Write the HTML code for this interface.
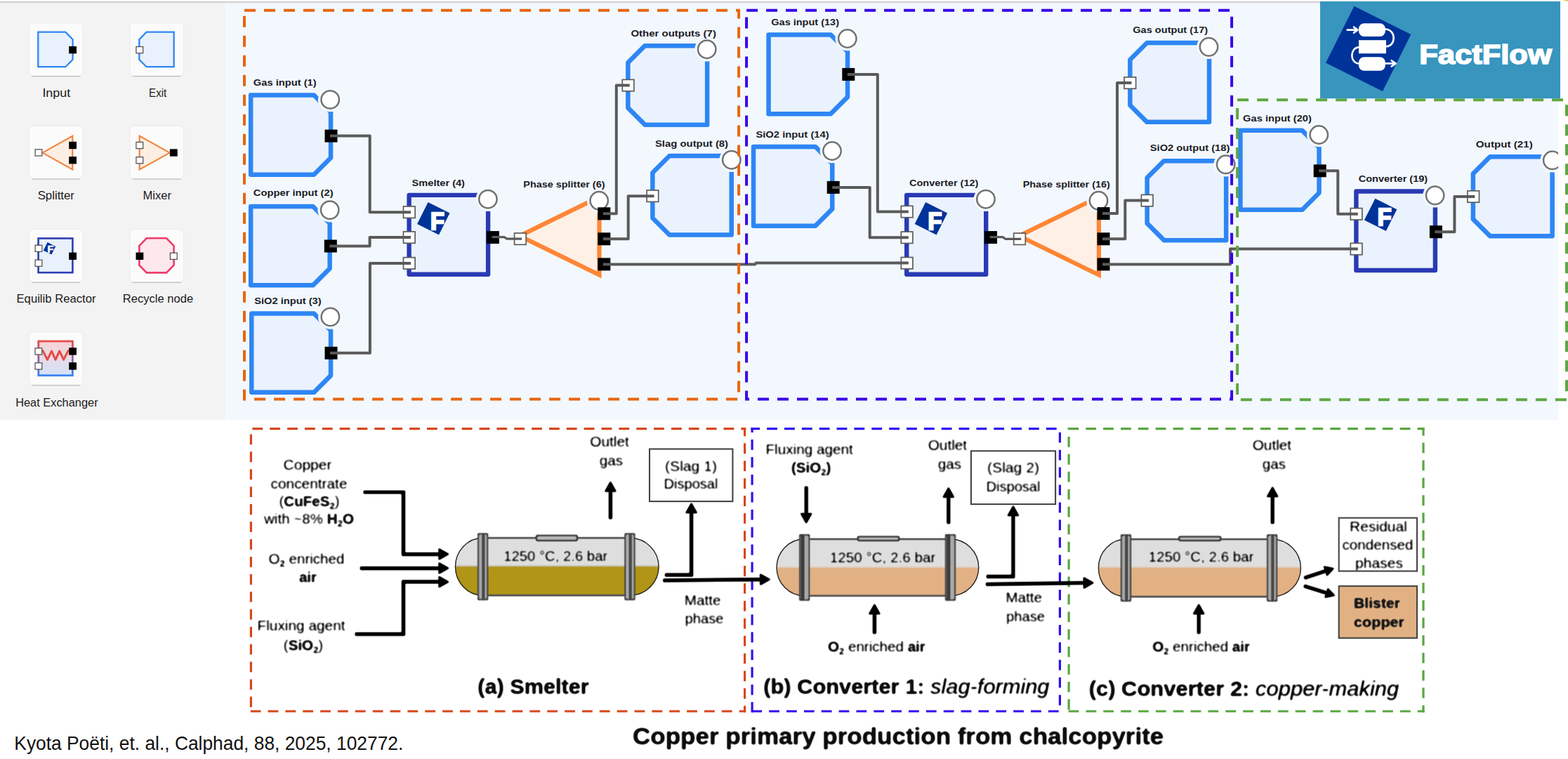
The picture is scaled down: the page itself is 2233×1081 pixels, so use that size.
<!DOCTYPE html>
<html lang="en"><head><meta charset="utf-8"><title>FactFlow - Copper primary production from chalcopyrite</title>
<style>
html,body{margin:0;padding:0;background:#fff;}
body{width:2233px;height:1081px;overflow:hidden;position:relative;font-family:'Liberation Sans', Arial, sans-serif;}
svg{position:absolute;left:0;top:0;display:block;}
text{font-family:'Liberation Sans', Arial, sans-serif;}
</style></head><body>
<svg width="2233" height="1081" viewBox="0 0 2233 1081">
<defs>
<clipPath id="diagclip"><rect x="321.2" y="2" width="1897.8" height="596.3"/></clipPath>
<radialGradient id="gold" cx="1" cy="0" r="1"><stop offset="0" stop-color="#d9bb45"/><stop offset="0.6" stop-color="#e6d27f"/><stop offset="1" stop-color="#fff" stop-opacity="0"/></radialGradient>
<linearGradient id="hxs" x1="0" y1="0" x2="0" y2="1"><stop offset="0" stop-color="#ea4a4a"/><stop offset="1" stop-color="#3b84f2"/></linearGradient>
<linearGradient id="hxf" x1="0" y1="0" x2="0" y2="1"><stop offset="0" stop-color="#f8d3d6"/><stop offset="1" stop-color="#d3e3fa"/></linearGradient>
<linearGradient id="topline" x1="0" y1="0" x2="0" y2="1"><stop offset="0" stop-color="#d4d4d4"/><stop offset="0.4" stop-color="#cbcbcb"/><stop offset="1" stop-color="#ececec"/></linearGradient>
</defs>
<rect x="0" y="0" width="2233" height="1081" fill="#fff"/>

<rect x="0" y="2" width="321.2" height="596.3" fill="#f3f3f3"/>
<rect x="321.2" y="2" width="1897.8" height="596.3" fill="#f2f8fe"/>
<rect x="0" y="1.8" width="2222" height="2.8" fill="url(#topline)"/>
<rect x="2225" y="0" width="8" height="2.6" fill="url(#gold)"/>
<rect x="41.5" y="32.6" width="76.6" height="75.4" rx="6.5" fill="#fbfbfb" stroke="#ebebeb" stroke-width="1"/>
<path d="M46.0 108.6 L113.6 108.6" stroke="#bfbfbf" stroke-width="1.3" stroke-linecap="round" fill="none"/>
<rect x="185" y="32.6" width="76.6" height="75.4" rx="6.5" fill="#fbfbfb" stroke="#ebebeb" stroke-width="1"/>
<path d="M189.5 108.6 L257.1 108.6" stroke="#bfbfbf" stroke-width="1.3" stroke-linecap="round" fill="none"/>
<path d="M54.3 45.7 L93.4 45.7 L103.6 56.2 L103.6 84.8 L93.4 95.2 L54.3 95.2 Z" fill="#e9f1fd" stroke="#2e86f4" stroke-width="2.3"/>
<rect x="98.2" y="65.9" width="10.8" height="10.4" fill="#000"/>
<path d="M247.7 45.7 L208.6 45.7 L198.3 56.2 L198.3 84.8 L208.6 95.2 L247.7 95.2 Z" fill="#e9f1fd" stroke="#2e86f4" stroke-width="2.3"/>
<rect x="193.9" y="66.5" width="9.8" height="9.2" fill="#fff" stroke="#4a4a4a" stroke-width="1.2"/>
<text x="80.3" y="138.1" font-size="17" text-anchor="middle" fill="#1a1a1a" textLength="39.8" lengthAdjust="spacingAndGlyphs">Input</text>
<text x="224.7" y="138.1" font-size="17" text-anchor="middle" fill="#1a1a1a" textLength="25.2" lengthAdjust="spacingAndGlyphs">Exit</text>
<rect x="41.5" y="179.2" width="76.6" height="75.4" rx="6.5" fill="#fbfbfb" stroke="#ebebeb" stroke-width="1"/>
<path d="M46.0 255.2 L113.6 255.2" stroke="#bfbfbf" stroke-width="1.3" stroke-linecap="round" fill="none"/>
<rect x="185" y="179.2" width="76.6" height="75.4" rx="6.5" fill="#fbfbfb" stroke="#ebebeb" stroke-width="1"/>
<path d="M189.5 255.2 L257.1 255.2" stroke="#bfbfbf" stroke-width="1.3" stroke-linecap="round" fill="none"/>
<path d="M60.6 217.6 L103.3 193.6 L103.3 241.4 Z" fill="#fdeee4" stroke="#f5823a" stroke-width="2.2"/>
<rect x="50.1" y="212.8" width="9.8" height="9.2" fill="#fff" stroke="#4a4a4a" stroke-width="1.2"/>
<rect x="98.2" y="201.8" width="10.8" height="10.4" fill="#000"/>
<rect x="98.2" y="223.0" width="10.8" height="10.4" fill="#000"/>
<path d="M241.8 217.6 L198.7 193.6 L198.7 241.4 Z" fill="#fdeee4" stroke="#f5823a" stroke-width="2.2"/>
<rect x="193.9" y="202.4" width="9.8" height="9.2" fill="#fff" stroke="#4a4a4a" stroke-width="1.2"/>
<rect x="193.9" y="223.6" width="9.8" height="9.2" fill="#fff" stroke="#4a4a4a" stroke-width="1.2"/>
<rect x="241.9" y="212.3" width="10.8" height="10.4" fill="#000"/>
<text x="79.8" y="284.4" font-size="17" text-anchor="middle" fill="#1a1a1a" textLength="52.3" lengthAdjust="spacingAndGlyphs">Splitter</text>
<text x="223.8" y="284.4" font-size="17" text-anchor="middle" fill="#1a1a1a" textLength="40.7" lengthAdjust="spacingAndGlyphs">Mixer</text>
<rect x="41.5" y="326.4" width="76.6" height="75.4" rx="6.5" fill="#fbfbfb" stroke="#ebebeb" stroke-width="1"/>
<path d="M46.0 402.4 L113.6 402.4" stroke="#bfbfbf" stroke-width="1.3" stroke-linecap="round" fill="none"/>
<rect x="185" y="326.4" width="76.6" height="75.4" rx="6.5" fill="#fbfbfb" stroke="#ebebeb" stroke-width="1"/>
<path d="M189.5 402.4 L257.1 402.4" stroke="#bfbfbf" stroke-width="1.3" stroke-linecap="round" fill="none"/>
<rect x="54.6" y="339.5" width="48.8" height="48.7" fill="#e9f1fd" stroke="#2c3fb1" stroke-width="2.6"/>
<g transform="translate(70.5 353.8)"><rect x="-6.5" y="-6.5" width="13" height="13" fill="#003399" transform="rotate(26.6)"/><text x="-2.9" y="6.6" font-size="14.5" font-weight="bold" fill="#fff" stroke="#fff" stroke-width="0.7">F</text></g>
<rect x="50.1" y="349.2" width="9.8" height="9.2" fill="#fff" stroke="#4a4a4a" stroke-width="1.2"/>
<rect x="50.1" y="370.1" width="9.8" height="9.2" fill="#fff" stroke="#4a4a4a" stroke-width="1.2"/>
<rect x="98.2" y="359.6" width="10.8" height="10.4" fill="#000"/>
<path d="M208.8 339.3 L237 339.3 L247.6 350 L247.6 377.7 L237 388.4 L208.8 388.4 L198.3 377.7 L198.3 350 Z" fill="#fde8ec" stroke="#ee3d6a" stroke-width="2.6"/>
<rect x="193.5" y="359.6" width="10.8" height="10.4" fill="#000"/>
<rect x="242.4" y="360.2" width="9.8" height="9.2" fill="#fff" stroke="#4a4a4a" stroke-width="1.2"/>
<text x="80" y="431.2" font-size="17" text-anchor="middle" fill="#1a1a1a" textLength="113" lengthAdjust="spacingAndGlyphs">Equilib Reactor</text>
<text x="225" y="431.2" font-size="17" text-anchor="middle" fill="#1a1a1a" textLength="100.3" lengthAdjust="spacingAndGlyphs">Recycle node</text>
<rect x="41.5" y="472.9" width="76.6" height="75.4" rx="6.5" fill="#fbfbfb" stroke="#ebebeb" stroke-width="1"/>
<path d="M46.0 548.9 L113.6 548.9" stroke="#bfbfbf" stroke-width="1.3" stroke-linecap="round" fill="none"/>
<rect x="54.8" y="486" width="48.6" height="48.7" fill="url(#hxf)" stroke="url(#hxs)" stroke-width="2.8"/>
<path d="M61 499.6 L67.5 512.3 L73.5 500 L79 512.3 L84.7 500 L90.6 512.3 L97 499.6" fill="none" stroke="#e84b44" stroke-width="3" stroke-linejoin="round" stroke-linecap="round"/>
<rect x="50.0" y="495.8" width="9.8" height="9.2" fill="#fff" stroke="#4a4a4a" stroke-width="1.2"/>
<rect x="50.0" y="516.8" width="9.8" height="9.2" fill="#fff" stroke="#4a4a4a" stroke-width="1.2"/>
<rect x="98.2" y="495.2" width="10.8" height="10.4" fill="#000"/>
<rect x="98.2" y="516.2" width="10.8" height="10.4" fill="#000"/>
<text x="80.9" y="578.5" font-size="17" text-anchor="middle" fill="#1a1a1a" textLength="117.4" lengthAdjust="spacingAndGlyphs">Heat Exchanger</text>
<g clip-path="url(#diagclip)">
<path d="M357.15 135.45 L447.05 135.45 L471.05 159.45 L471.05 224.75 L447.05 248.75 L357.15 248.75 Z" fill="#eaf2fd" stroke="#2e86f4" stroke-width="6.5" stroke-linejoin="round"/>
<path d="M357.15 294.05 L445.65 294.05 L469.65 318.05 L469.65 382.35 L445.65 406.35 L357.15 406.35 Z" fill="#eaf2fd" stroke="#2e86f4" stroke-width="6.5" stroke-linejoin="round"/>
<path d="M358.25 446.45 L447.05 446.45 L471.05 470.45 L471.05 534.85 L447.05 558.85 L358.25 558.85 Z" fill="#eaf2fd" stroke="#2e86f4" stroke-width="6.5" stroke-linejoin="round"/>
<path d="M1094.55 49.45 L1183.05 49.45 L1207.05 73.45 L1207.05 138.15 L1183.05 162.15 L1094.55 162.15 Z" fill="#eaf2fd" stroke="#2e86f4" stroke-width="6.5" stroke-linejoin="round"/>
<path d="M1073.05 209.05 L1161.25 209.05 L1185.25 233.05 L1185.25 297.65 L1161.25 321.65 L1073.05 321.65 Z" fill="#eaf2fd" stroke="#2e86f4" stroke-width="6.5" stroke-linejoin="round"/>
<path d="M1766.45 185.85 L1854.55 185.85 L1878.55 209.85 L1878.55 274.75 L1854.55 298.75 L1766.45 298.75 Z" fill="#eaf2fd" stroke="#2e86f4" stroke-width="6.5" stroke-linejoin="round"/>
<path d="M918.35 65.15 L1007.15 65.15 L1007.15 177.65 L918.35 177.65 L894.35 153.65 L894.35 89.15 Z" fill="#eaf2fd" stroke="#2e86f4" stroke-width="6.5" stroke-linejoin="round"/>
<path d="M953.35 221.95 L1041.75 221.95 L1041.75 334.55 L953.35 334.55 L929.35 310.55 L929.35 245.95 Z" fill="#eaf2fd" stroke="#2e86f4" stroke-width="6.5" stroke-linejoin="round"/>
<path d="M1633.35 61.05 L1722.05 61.05 L1722.05 173.85 L1633.35 173.85 L1609.35 149.85 L1609.35 85.05 Z" fill="#eaf2fd" stroke="#2e86f4" stroke-width="6.5" stroke-linejoin="round"/>
<path d="M1657.65 229.15 L1746.15 229.15 L1746.15 342.15 L1657.65 342.15 L1633.65 318.15 L1633.65 253.15 Z" fill="#eaf2fd" stroke="#2e86f4" stroke-width="6.5" stroke-linejoin="round"/>
<path d="M2121.85 223.35 L2210.65 223.35 L2210.65 336.15 L2121.85 336.15 L2097.85 312.15 L2097.85 247.35 Z" fill="#eaf2fd" stroke="#2e86f4" stroke-width="6.5" stroke-linejoin="round"/>
<rect x="582.6" y="277.9" width="112.5" height="112.9" fill="#eaf2fd" stroke="#2a3ab4" stroke-width="6.4" stroke-linejoin="round"/>
<g transform="translate(617.3 311.3)"><clipPath id="fc1"><rect x="-17.3" y="-17.3" width="34.6" height="34.6" transform="rotate(26.6)"/></clipPath><rect x="-17.3" y="-17.3" width="34.6" height="34.6" fill="#003399" transform="rotate(26.6)"/><g clip-path="url(#fc1)"><text x="-4.4" y="15.4" font-size="35" font-weight="bold" fill="#fff" stroke="#fff" stroke-width="2.4" stroke-linejoin="miter" textLength="19.89" lengthAdjust="spacingAndGlyphs">F</text></g></g>
<rect x="1291.2" y="277.9" width="113.0" height="112.9" fill="#eaf2fd" stroke="#2a3ab4" stroke-width="6.4" stroke-linejoin="round"/>
<g transform="translate(1325.9 311.3)"><clipPath id="fc2"><rect x="-17.3" y="-17.3" width="34.6" height="34.6" transform="rotate(26.6)"/></clipPath><rect x="-17.3" y="-17.3" width="34.6" height="34.6" fill="#003399" transform="rotate(26.6)"/><g clip-path="url(#fc2)"><text x="-4.4" y="15.4" font-size="35" font-weight="bold" fill="#fff" stroke="#fff" stroke-width="2.4" stroke-linejoin="miter" textLength="19.89" lengthAdjust="spacingAndGlyphs">F</text></g></g>
<rect x="1931.4" y="272.5" width="112.5" height="112.5" fill="#eaf2fd" stroke="#2a3ab4" stroke-width="6.4" stroke-linejoin="round"/>
<g transform="translate(1966.1 305.9)"><clipPath id="fc3"><rect x="-17.3" y="-17.3" width="34.6" height="34.6" transform="rotate(26.6)"/></clipPath><rect x="-17.3" y="-17.3" width="34.6" height="34.6" fill="#003399" transform="rotate(26.6)"/><g clip-path="url(#fc3)"><text x="-4.4" y="15.4" font-size="35" font-weight="bold" fill="#fff" stroke="#fff" stroke-width="2.4" stroke-linejoin="miter" textLength="19.89" lengthAdjust="spacingAndGlyphs">F</text></g></g>
<path d="M740.0 336.0 L853.5 280.5 L853.5 391.5 Z" fill="#fff0e6" stroke="#ff8636" stroke-width="6.1" stroke-linejoin="miter"/>
<path d="M1451.2 336.0 L1564.9 280.5 L1564.9 391.5 Z" fill="#fff0e6" stroke="#ff8636" stroke-width="6.1" stroke-linejoin="miter"/>
<circle cx="470.2" cy="141.9" r="17.3" fill="#f4f9ff"/>
<circle cx="470.2" cy="141.9" r="12.7" fill="#fff" stroke="#737373" stroke-width="2.5"/>
<circle cx="469.7" cy="299.1" r="17.3" fill="#f4f9ff"/>
<circle cx="469.7" cy="299.1" r="12.7" fill="#fff" stroke="#737373" stroke-width="2.5"/>
<circle cx="470.4" cy="451.4" r="17.3" fill="#f4f9ff"/>
<circle cx="470.4" cy="451.4" r="12.7" fill="#fff" stroke="#737373" stroke-width="2.5"/>
<circle cx="1206.8" cy="55.0" r="17.3" fill="#f4f9ff"/>
<circle cx="1206.8" cy="55.0" r="12.7" fill="#fff" stroke="#737373" stroke-width="2.5"/>
<circle cx="1185.0" cy="215.0" r="17.3" fill="#f4f9ff"/>
<circle cx="1185.0" cy="215.0" r="12.7" fill="#fff" stroke="#737373" stroke-width="2.5"/>
<circle cx="1878.3" cy="192.0" r="17.3" fill="#f4f9ff"/>
<circle cx="1878.3" cy="192.0" r="12.7" fill="#fff" stroke="#737373" stroke-width="2.5"/>
<circle cx="1006.7" cy="70.2" r="17.3" fill="#f4f9ff"/>
<circle cx="1006.7" cy="70.2" r="12.7" fill="#fff" stroke="#737373" stroke-width="2.5"/>
<circle cx="1041.8" cy="227.7" r="17.3" fill="#f4f9ff"/>
<circle cx="1041.8" cy="227.7" r="12.7" fill="#fff" stroke="#737373" stroke-width="2.5"/>
<circle cx="1721.5" cy="66.8" r="17.3" fill="#f4f9ff"/>
<circle cx="1721.5" cy="66.8" r="12.7" fill="#fff" stroke="#737373" stroke-width="2.5"/>
<circle cx="1745.7" cy="234.3" r="17.3" fill="#f4f9ff"/>
<circle cx="1745.7" cy="234.3" r="12.7" fill="#fff" stroke="#737373" stroke-width="2.5"/>
<circle cx="2210.8" cy="228.3" r="17.3" fill="#f4f9ff"/>
<circle cx="2210.8" cy="228.3" r="12.7" fill="#fff" stroke="#737373" stroke-width="2.5"/>
<circle cx="694.9" cy="283.7" r="17.3" fill="#f4f9ff"/>
<circle cx="694.9" cy="283.7" r="12.7" fill="#fff" stroke="#737373" stroke-width="2.5"/>
<circle cx="1403.9" cy="283.7" r="17.3" fill="#f4f9ff"/>
<circle cx="1403.9" cy="283.7" r="12.7" fill="#fff" stroke="#737373" stroke-width="2.5"/>
<circle cx="2043.6" cy="278.3" r="17.3" fill="#f4f9ff"/>
<circle cx="2043.6" cy="278.3" r="12.7" fill="#fff" stroke="#737373" stroke-width="2.5"/>
<circle cx="853.2" cy="285.8" r="17.3" fill="#f4f9ff"/>
<circle cx="853.2" cy="285.8" r="12.7" fill="#fff" stroke="#737373" stroke-width="2.5"/>
<circle cx="1564.5" cy="285.8" r="17.3" fill="#f4f9ff"/>
<circle cx="1564.5" cy="285.8" r="12.7" fill="#fff" stroke="#737373" stroke-width="2.5"/>
<rect x="462.5" y="184.6" width="18" height="18" fill="#000"/>
<rect x="461.8" y="341.5" width="18" height="18" fill="#000"/>
<rect x="462.5" y="493.8" width="18" height="18" fill="#000"/>
<rect x="1199.3" y="96.9" width="18" height="18" fill="#000"/>
<rect x="1177.7" y="257.9" width="18" height="18" fill="#000"/>
<rect x="1870.7" y="234.3" width="18" height="18" fill="#000"/>
<rect x="886.3" y="113.4" width="16.6" height="16.4" fill="#fff" stroke="#5c5c5c" stroke-width="1.7"/>
<rect x="921.1" y="271.0" width="16.6" height="16.4" fill="#fff" stroke="#5c5c5c" stroke-width="1.7"/>
<rect x="1601.0" y="109.9" width="16.6" height="16.4" fill="#fff" stroke="#5c5c5c" stroke-width="1.7"/>
<rect x="1625.4" y="277.4" width="16.6" height="16.4" fill="#fff" stroke="#5c5c5c" stroke-width="1.7"/>
<rect x="2089.9" y="271.8" width="16.6" height="16.4" fill="#fff" stroke="#5c5c5c" stroke-width="1.7"/>
<rect x="574.5" y="294.0" width="16.6" height="16.4" fill="#fff" stroke="#5c5c5c" stroke-width="1.7"/>
<rect x="574.5" y="329.9" width="16.6" height="16.4" fill="#fff" stroke="#5c5c5c" stroke-width="1.7"/>
<rect x="574.5" y="366.7" width="16.6" height="16.4" fill="#fff" stroke="#5c5c5c" stroke-width="1.7"/>
<rect x="692.9" y="329.1" width="18" height="18" fill="#000"/>
<rect x="1283.3" y="293.3" width="16.6" height="16.4" fill="#fff" stroke="#5c5c5c" stroke-width="1.7"/>
<rect x="1283.3" y="330.1" width="16.6" height="16.4" fill="#fff" stroke="#5c5c5c" stroke-width="1.7"/>
<rect x="1283.3" y="366.5" width="16.6" height="16.4" fill="#fff" stroke="#5c5c5c" stroke-width="1.7"/>
<rect x="1402.0" y="329.1" width="18" height="18" fill="#000"/>
<rect x="1923.3" y="296.6" width="16.6" height="16.4" fill="#fff" stroke="#5c5c5c" stroke-width="1.7"/>
<rect x="1923.3" y="346.4" width="16.6" height="16.4" fill="#fff" stroke="#5c5c5c" stroke-width="1.7"/>
<rect x="2035.9" y="321.2" width="18" height="18" fill="#000"/>
<rect x="732.6" y="332.0" width="16.6" height="16.4" fill="#fff" stroke="#5c5c5c" stroke-width="1.7"/>
<rect x="851.3" y="295.3" width="18" height="18" fill="#000"/>
<rect x="851.3" y="331.3" width="18" height="18" fill="#000"/>
<rect x="851.3" y="367.4" width="18" height="18" fill="#000"/>
<rect x="1443.7" y="332.1" width="16.6" height="16.4" fill="#fff" stroke="#5c5c5c" stroke-width="1.7"/>
<rect x="1562.5" y="295.1" width="18" height="18" fill="#000"/>
<rect x="1562.5" y="331.3" width="18" height="18" fill="#000"/>
<rect x="1562.5" y="367.4" width="18" height="18" fill="#000"/>
<path d="M470.0 193.6 L526.7 193.6 L526.7 302.2 L585.0 302.2" fill="none" stroke="#5a5a5a" stroke-width="4" stroke-linejoin="round"/>
<path d="M469.3 350.5 L526.6 350.5 L526.6 338.1 L585.0 338.1" fill="none" stroke="#5a5a5a" stroke-width="4" stroke-linejoin="round"/>
<path d="M470.0 502.8 L526.9 502.8 L526.9 374.9 L585.0 374.9" fill="none" stroke="#5a5a5a" stroke-width="4" stroke-linejoin="round"/>
<path d="M700.4 337.6 L717.9 337.6 L721.9 340.2 L743.1 340.2" fill="none" stroke="#5a5a5a" stroke-width="3.2" stroke-linejoin="round"/>
<path d="M1409.5 337.6 L1428.0 337.6 L1432.0 340.3 L1454.2 340.3" fill="none" stroke="#5a5a5a" stroke-width="3.2" stroke-linejoin="round"/>
<path d="M858.8 304.3 L877.8 304.3 L877.8 121.6 L896.8 121.6" fill="none" stroke="#5a5a5a" stroke-width="4" stroke-linejoin="round"/>
<path d="M858.8 340.3 L894.7 340.3 L894.7 279.2 L931.6 279.2" fill="none" stroke="#5a5a5a" stroke-width="4" stroke-linejoin="round"/>
<path d="M858.8 376.4 L1075.5 376.4 L1076.5 374.6 L1293.8 374.6" fill="none" stroke="#5a5a5a" stroke-width="4" stroke-linejoin="round"/>
<path d="M1206.8 105.9 L1249.8 105.9 L1249.8 301.5 L1293.8 301.5" fill="none" stroke="#5a5a5a" stroke-width="4" stroke-linejoin="round"/>
<path d="M1185.2 266.9 L1238.7 266.9 L1238.7 338.3 L1293.8 338.3" fill="none" stroke="#5a5a5a" stroke-width="4" stroke-linejoin="round"/>
<path d="M1570.0 304.1 L1591 304.1 L1591 118.1 L1611.5 118.1" fill="none" stroke="#5a5a5a" stroke-width="4" stroke-linejoin="round"/>
<path d="M1570.0 340.3 L1602.3 340.3 L1602.3 285.6 L1635.9 285.6" fill="none" stroke="#5a5a5a" stroke-width="4" stroke-linejoin="round"/>
<path d="M1570.0 376.4 L1752 376.4 L1752 354.6 L1933.8 354.6" fill="none" stroke="#5a5a5a" stroke-width="4" stroke-linejoin="round"/>
<path d="M1878.2 243.3 L1905.3 243.3 L1905.3 304.8 L1933.8 304.8" fill="none" stroke="#5a5a5a" stroke-width="4" stroke-linejoin="round"/>
<path d="M2043.4 330.2 L2071.4 330.2 L2071.4 280.0 L2100.4 280.0" fill="none" stroke="#5a5a5a" stroke-width="4" stroke-linejoin="round"/>
<text x="360.8" y="122.0" font-size="13.3" font-weight="bold" fill="#1b1b25" textLength="89.8" lengthAdjust="spacingAndGlyphs">Gas input (1)</text>
<text x="360.8" y="279.2" font-size="13.3" font-weight="bold" fill="#1b1b25" textLength="113.8" lengthAdjust="spacingAndGlyphs">Copper input (2)</text>
<text x="362.2" y="432.8" font-size="13.3" font-weight="bold" fill="#1b1b25" textLength="95.5" lengthAdjust="spacingAndGlyphs">SiO2 input (3)</text>
<text x="1098.3" y="35.6" font-size="13.3" font-weight="bold" fill="#1b1b25" textLength="96.7" lengthAdjust="spacingAndGlyphs">Gas input (13)</text>
<text x="1076.4" y="195.6" font-size="13.3" font-weight="bold" fill="#1b1b25" textLength="104.3" lengthAdjust="spacingAndGlyphs">SiO2 input (14)</text>
<text x="1770.1" y="172.7" font-size="13.3" font-weight="bold" fill="#1b1b25" textLength="97.8" lengthAdjust="spacingAndGlyphs">Gas input (20)</text>
<text x="898.4" y="51.7" font-size="13.3" font-weight="bold" fill="#1b1b25" textLength="121.5" lengthAdjust="spacingAndGlyphs">Other outputs (7)</text>
<text x="932.9" y="208.5" font-size="13.3" font-weight="bold" fill="#1b1b25" textLength="104.2" lengthAdjust="spacingAndGlyphs">Slag output (8)</text>
<text x="1613.3" y="47.1" font-size="13.3" font-weight="bold" fill="#1b1b25" textLength="106.8" lengthAdjust="spacingAndGlyphs">Gas output (17)</text>
<text x="1637.8" y="215.1" font-size="13.3" font-weight="bold" fill="#1b1b25" textLength="113.5" lengthAdjust="spacingAndGlyphs">SiO2 output (18)</text>
<text x="2101.8" y="209.6" font-size="13.3" font-weight="bold" fill="#1b1b25" textLength="81.0" lengthAdjust="spacingAndGlyphs">Output (21)</text>
<text x="586.6" y="264.5" font-size="13.3" font-weight="bold" fill="#1b1b25" textLength="75.4" lengthAdjust="spacingAndGlyphs">Smelter (4)</text>
<text x="1295.0" y="264.5" font-size="13.3" font-weight="bold" fill="#1b1b25" textLength="98.4" lengthAdjust="spacingAndGlyphs">Converter (12)</text>
<text x="1934.7" y="258.7" font-size="13.3" font-weight="bold" fill="#1b1b25" textLength="98.5" lengthAdjust="spacingAndGlyphs">Converter (19)</text>
<text x="745.3" y="267.3" font-size="13.3" font-weight="bold" fill="#1b1b25" textLength="116.2" lengthAdjust="spacingAndGlyphs">Phase splitter (6)</text>
<text x="1456.7" y="267.3" font-size="13.3" font-weight="bold" fill="#1b1b25" textLength="124.1" lengthAdjust="spacingAndGlyphs">Phase splitter (16)</text>
</g>
<rect x="348" y="14.7" width="704.1" height="553.9" fill="none" stroke="#e8650f" stroke-width="4" stroke-dasharray="16 12" stroke-dashoffset="0"/>
<rect x="1063.1" y="14.7" width="691.0" height="553.9" fill="none" stroke="#3a00e6" stroke-width="4" stroke-dasharray="16 12" stroke-dashoffset="0"/>
<rect x="1762.1" y="142.2" width="468.9" height="427.0" fill="none" stroke="#5fa644" stroke-width="4" stroke-dasharray="16 12" stroke-dashoffset="0"/>
<rect x="1880" y="2" width="342" height="138.2" fill="#3795be"/>
<g transform="translate(1948.7 69.3)"><rect x="-45.2" y="-45.2" width="90.4" height="90.4" fill="#003399" transform="rotate(26.5)"/></g>
<g fill="#fff" stroke="none">
<rect x="1935" y="33.3" width="37.8" height="18.6" rx="7.5"/>
<rect x="1935" y="57.2" width="39" height="19"/>
<rect x="1935" y="81.3" width="37.8" height="19.4" rx="7.5"/>
</g>
<g fill="none" stroke="#fff" stroke-width="2.6" stroke-linecap="round" stroke-linejoin="round">
<path d="M1918.6 42.6 L1933 42.6 M1928 38.6 L1933.4 42.6 L1928 46.6"/>
<path d="M1972.5 41.5 C1988.5 42 1988.5 65.5 1974 66.2"/>
<path d="M1935 67.4 C1922 68 1922 90 1935.4 90.6"/>
<path d="M1972.7 90.4 L1986.4 90.4 M1981.6 86.2 L1987.6 90.4 L1981.6 94.6"/>
</g>
<text x="2021.2" y="90.5" font-size="38.4" font-weight="bold" fill="#fff" textLength="188.6" lengthAdjust="spacingAndGlyphs" stroke="#fff" stroke-width="1.7" stroke-linejoin="miter">FactFlow</text>
<filter id="soft" filterUnits="userSpaceOnUse" x="340" y="600" width="1700" height="480"><feGaussianBlur stdDeviation="0.8"/><feComponentTransfer><feFuncA type="linear" slope="2" intercept="-0.27"/></feComponentTransfer></filter>
<g id="fig">
<path d="M355.79999999999995 610.7 L1062.1999999999998 610.7" fill="none" stroke="#d8461e" stroke-width="3.2" stroke-dasharray="14.8 10.057" stroke-dashoffset="21.26"/>
<path d="M355.79999999999995 1013 L1062.1999999999998 1013" fill="none" stroke="#d8461e" stroke-width="3.2" stroke-dasharray="14.8 10.057" stroke-dashoffset="23.96"/>
<path d="M357.4 609.1 L357.4 1014.6" fill="none" stroke="#d8461e" stroke-width="3.2" stroke-dasharray="14.8 10.13" stroke-dashoffset="15.63"/>
<path d="M1060.6 609.1 L1060.6 1014.6" fill="none" stroke="#d8461e" stroke-width="3.2" stroke-dasharray="14.8 10.13" stroke-dashoffset="2.7"/>
<path d="M1069.5 610.7 L1511.0 610.7" fill="none" stroke="#2f10f0" stroke-width="3.2" stroke-dasharray="14.8 10.057" stroke-dashoffset="2.2"/>
<path d="M1069.5 1013 L1511.0 1013" fill="none" stroke="#2f10f0" stroke-width="3.2" stroke-dasharray="14.8 10.057" stroke-dashoffset="24.06"/>
<path d="M1071.1 609.1 L1071.1 1014.6" fill="none" stroke="#2f10f0" stroke-width="3.2" stroke-dasharray="14.8 10.13" stroke-dashoffset="8.0"/>
<path d="M1509.4 609.1 L1509.4 1014.6" fill="none" stroke="#2f10f0" stroke-width="3.2" stroke-dasharray="14.8 10.13" stroke-dashoffset="18.33"/>
<path d="M1520.5 610.7 L2028.6 610.7" fill="none" stroke="#59a640" stroke-width="3.2" stroke-dasharray="14.8 10.057" stroke-dashoffset="23.96"/>
<path d="M1520.5 1013 L2028.6 1013" fill="none" stroke="#59a640" stroke-width="3.2" stroke-dasharray="14.8 10.057" stroke-dashoffset="23.76"/>
<path d="M1522.1 609.1 L1522.1 1014.6" fill="none" stroke="#59a640" stroke-width="3.2" stroke-dasharray="14.8 10.13" stroke-dashoffset="12.13"/>
<path d="M2027 609.1 L2027 1014.6" fill="none" stroke="#59a640" stroke-width="3.2" stroke-dasharray="14.8 10.13" stroke-dashoffset="3.5"/>
<text filter="url(#soft)" x="438" y="669" font-size="20.6" text-anchor="middle" fill="#1a1a1a" textLength="69" lengthAdjust="spacingAndGlyphs">Copper</text>
<text filter="url(#soft)" x="440" y="695.5" font-size="20.6" text-anchor="middle" fill="#1a1a1a" textLength="109" lengthAdjust="spacingAndGlyphs">concentrate</text>
<text filter="url(#soft)" x="440.5" y="720.5" font-size="20.6" text-anchor="middle" fill="#1a1a1a">(<tspan font-weight="bold">CuFeS<tspan font-size="13" dy="4">2</tspan></tspan><tspan dy="-4">)</tspan></text>
<text filter="url(#soft)" x="440" y="745.5" font-size="20.6" text-anchor="middle" fill="#1a1a1a">with ~8% <tspan font-weight="bold">H<tspan font-size="13" dy="4">2</tspan><tspan dy="-4">O</tspan></tspan></text>
<text filter="url(#soft)" x="436.5" y="803" font-size="20.6" text-anchor="middle" fill="#1a1a1a">O<tspan font-size="13" dy="4" font-weight="bold">2</tspan><tspan dy="-4"> enriched</tspan></text>
<text filter="url(#soft)" x="438.5" y="829" font-size="20.6" font-weight="bold" text-anchor="middle" fill="#1a1a1a">air</text>
<text filter="url(#soft)" x="429" y="898.3" font-size="20.6" text-anchor="middle" fill="#1a1a1a" textLength="125" lengthAdjust="spacingAndGlyphs">Fluxing agent</text>
<text filter="url(#soft)" x="432" y="926" font-size="20.6" text-anchor="middle" fill="#1a1a1a">(<tspan font-weight="bold">SiO<tspan font-size="13" dy="4">2</tspan></tspan><tspan dy="-4">)</tspan></text>
<path filter="url(#soft)" d="M517.6 701 L574.5 701 L574.5 789.3 L626.0 789.3" fill="none" stroke="#000" stroke-width="4.7" stroke-linejoin="miter"/>
<path filter="url(#soft)" d="M640.0 789.3 L624.5 798.0 L624.5 780.6 Z" fill="#000"/>
<path filter="url(#soft)" d="M512.9 809.3 L626.0 809.3" fill="none" stroke="#000" stroke-width="4.7" stroke-linejoin="miter"/>
<path filter="url(#soft)" d="M640.0 809.3 L624.5 818.0 L624.5 800.6 Z" fill="#000"/>
<path filter="url(#soft)" d="M505.7 903.2 L574.5 903.2 L574.5 828.7 L626.0 828.7" fill="none" stroke="#000" stroke-width="4.7" stroke-linejoin="miter"/>
<path filter="url(#soft)" d="M640.0 828.7 L624.5 837.4 L624.5 820.0 Z" fill="#000"/>
<linearGradient id="liqa" gradientUnits="userSpaceOnUse" x1="0" y1="766.3" x2="0" y2="847.9"><stop offset="0" stop-color="#dedede"/><stop offset="0.4841" stop-color="#dedede"/><stop offset="0.4841" stop-color="#b09514"/><stop offset="1" stop-color="#b09514"/></linearGradient>
<path filter="url(#soft)" d="M687.6 766.3 L896.9 766.3 A41.2 40.80000000000001 0 0 1 896.9 847.9 L687.6 847.9 A39.1 40.80000000000001 0 0 1 687.6 766.3 Z" fill="url(#liqa)"/>
<path d="M687.6 766.3 L896.9 766.3 A41.2 40.80000000000001 0 0 1 896.9 847.9 L687.6 847.9 A39.1 40.80000000000001 0 0 1 687.6 766.3 Z" fill="none" stroke="#262626" stroke-width="1.4"/>
<path filter="url(#soft)" d="M687.6 766.3 L896.9 766.3 M687.6 847.9 L896.9 847.9" stroke="#565656" stroke-width="2" fill="none"/>
<rect filter="url(#soft)" x="681" y="760.3" width="13.3" height="93.6" fill="#a9a9a9"/>
<rect filter="url(#soft)" x="686.6" y="760.3" width="3.6" height="93.6" fill="#4a4a4a"/>
<rect filter="url(#soft)" x="681" y="760.3" width="13.3" height="93.6" fill="none" stroke="#333" stroke-width="1.6"/>
<rect filter="url(#soft)" x="890.3" y="760.3" width="13.3" height="93.6" fill="#a9a9a9"/>
<rect filter="url(#soft)" x="895.9" y="760.3" width="3.6" height="93.6" fill="#4a4a4a"/>
<rect filter="url(#soft)" x="890.3" y="760.3" width="13.3" height="93.6" fill="none" stroke="#333" stroke-width="1.6"/>
<rect filter="url(#soft)" x="763.8" y="762.7" width="58.3" height="7.2" rx="1.2" fill="#b8b8b8"/>
<rect filter="url(#soft)" x="763.8" y="762.7" width="58.3" height="7.2" rx="1.2" fill="none" stroke="#2a2a2a" stroke-width="1.7"/>
<text filter="url(#soft)" x="791.2" y="799.1" font-size="20.6" text-anchor="middle" fill="#222" textLength="148" lengthAdjust="spacingAndGlyphs">1250 °C, 2.6 bar</text>
<text filter="url(#soft)" x="868" y="635.8" font-size="20.6" text-anchor="middle" fill="#1a1a1a" textLength="55.5" lengthAdjust="spacingAndGlyphs">Outlet</text>
<text filter="url(#soft)" x="870.5" y="662.7" font-size="20.6" text-anchor="middle" fill="#1a1a1a" textLength="33.5" lengthAdjust="spacingAndGlyphs">gas</text>
<path filter="url(#soft)" d="M869.4 739.3 L869.4 698.9" fill="none" stroke="#000" stroke-width="4.7" stroke-linejoin="miter"/>
<path filter="url(#soft)" d="M869.4 684.9 L878.1 700.4 L860.7 700.4 Z" fill="#000"/>
<rect filter="url(#soft)" x="925" y="639.5" width="118.4" height="74.6" fill="#fff"/>
<rect x="925" y="639.5" width="118.4" height="74.6" fill="none" stroke="#444" stroke-width="2.1"/>
<text filter="url(#soft)" x="984" y="670.5" font-size="20.6" text-anchor="middle" fill="#1a1a1a" textLength="74" lengthAdjust="spacingAndGlyphs">(Slag 1)</text>
<text filter="url(#soft)" x="984" y="696" font-size="20.6" text-anchor="middle" fill="#1a1a1a" textLength="77" lengthAdjust="spacingAndGlyphs">Disposal</text>
<path filter="url(#soft)" d="M947.1 818.9 L984.6 818.9 L984.6 729.5" fill="none" stroke="#000" stroke-width="4.7" stroke-linejoin="miter"/>
<path filter="url(#soft)" d="M984.6 715.5 L993.3 731.0 L975.9 731.0 Z" fill="#000"/>
<path filter="url(#soft)" d="M944.4 826.6 L1083.7 825.32" fill="none" stroke="#000" stroke-width="4.7" stroke-linejoin="miter"/>
<path filter="url(#soft)" d="M1097.7 825.19 L1082.28 834.03 L1082.12 816.64 Z" fill="#000"/>
<text filter="url(#soft)" x="1000.7" y="861.9" font-size="20.6" text-anchor="middle" fill="#1a1a1a" textLength="52" lengthAdjust="spacingAndGlyphs">Matte</text>
<text filter="url(#soft)" x="1003" y="888.4" font-size="20.6" text-anchor="middle" fill="#1a1a1a" textLength="55" lengthAdjust="spacingAndGlyphs">phase</text>
<text filter="url(#soft)" x="759.5" y="987.7" font-size="29.5" font-weight="bold" text-anchor="middle" fill="#111" textLength="158.6" lengthAdjust="spacingAndGlyphs">(a) Smelter</text>
<text filter="url(#soft)" x="1152.6" y="646.9" font-size="20.6" text-anchor="middle" fill="#1a1a1a" textLength="124.3" lengthAdjust="spacingAndGlyphs">Fluxing agent</text>
<text filter="url(#soft)" x="1155.2" y="673.3" font-size="20.6" text-anchor="middle" fill="#1a1a1a"><tspan font-weight="bold">(SiO<tspan font-size="13" dy="4">2</tspan><tspan dy="-4">)</tspan></tspan></text>
<path filter="url(#soft)" d="M1148.2 692.7 L1148.2 732.2" fill="none" stroke="#000" stroke-width="4.7" stroke-linejoin="miter"/>
<path filter="url(#soft)" d="M1148.2 746.2 L1139.5 730.7 L1156.9 730.7 Z" fill="#000"/>
<linearGradient id="liqb" gradientUnits="userSpaceOnUse" x1="0" y1="767.8" x2="0" y2="848.6"><stop offset="0" stop-color="#dedede"/><stop offset="0.495" stop-color="#dedede"/><stop offset="0.495" stop-color="#e2b183"/><stop offset="1" stop-color="#e2b183"/></linearGradient>
<path filter="url(#soft)" d="M1145.6999999999998 767.8 L1353.3999999999999 767.8 A40.4 40.400000000000034 0 0 1 1353.3999999999999 848.6 L1145.6999999999998 848.6 A39.7 40.400000000000034 0 0 1 1145.6999999999998 767.8 Z" fill="url(#liqb)"/>
<path d="M1145.6999999999998 767.8 L1353.3999999999999 767.8 A40.4 40.400000000000034 0 0 1 1353.3999999999999 848.6 L1145.6999999999998 848.6 A39.7 40.400000000000034 0 0 1 1145.6999999999998 767.8 Z" fill="none" stroke="#262626" stroke-width="1.4"/>
<path filter="url(#soft)" d="M1145.6999999999998 767.8 L1353.3999999999999 767.8 M1145.6999999999998 848.6 L1353.3999999999999 848.6" stroke="#565656" stroke-width="2" fill="none"/>
<rect filter="url(#soft)" x="1139.1" y="761.8" width="13.3" height="92.8" fill="#a9a9a9"/>
<rect filter="url(#soft)" x="1140.7" y="761.8" width="4.6" height="92.8" fill="#3c3c3c"/>
<rect filter="url(#soft)" x="1139.1" y="761.8" width="13.3" height="92.8" fill="none" stroke="#333" stroke-width="1.6"/>
<rect filter="url(#soft)" x="1346.8" y="761.8" width="13.3" height="92.8" fill="#a9a9a9"/>
<rect filter="url(#soft)" x="1348.4" y="761.8" width="4.6" height="92.8" fill="#3c3c3c"/>
<rect filter="url(#soft)" x="1346.8" y="761.8" width="13.3" height="92.8" fill="none" stroke="#333" stroke-width="1.6"/>
<rect filter="url(#soft)" x="1221.5" y="764.3" width="59.0" height="5.6" rx="1.2" fill="#b8b8b8"/>
<rect filter="url(#soft)" x="1221.5" y="764.3" width="59.0" height="5.6" rx="1.2" fill="none" stroke="#2a2a2a" stroke-width="1.7"/>
<text filter="url(#soft)" x="1257" y="800.9" font-size="20.6" text-anchor="middle" fill="#222" textLength="150.5" lengthAdjust="spacingAndGlyphs">1250 °C, 2.6 bar</text>
<text filter="url(#soft)" x="1349.4" y="641.3" font-size="20.6" text-anchor="middle" fill="#1a1a1a" textLength="55.5" lengthAdjust="spacingAndGlyphs">Outlet</text>
<text filter="url(#soft)" x="1352.5" y="668.3" font-size="20.6" text-anchor="middle" fill="#1a1a1a" textLength="33.5" lengthAdjust="spacingAndGlyphs">gas</text>
<path filter="url(#soft)" d="M1350.8 746 L1350.8 707.2" fill="none" stroke="#000" stroke-width="4.7" stroke-linejoin="miter"/>
<path filter="url(#soft)" d="M1350.8 693.2 L1359.5 708.7 L1342.1 708.7 Z" fill="#000"/>
<rect filter="url(#soft)" x="1382.9" y="642.3" width="120.2" height="75.8" fill="#fff"/>
<rect x="1382.9" y="642.3" width="120.2" height="75.8" fill="none" stroke="#444" stroke-width="2.1"/>
<text filter="url(#soft)" x="1443" y="672.7" font-size="20.6" text-anchor="middle" fill="#1a1a1a" textLength="74" lengthAdjust="spacingAndGlyphs">(Slag 2)</text>
<text filter="url(#soft)" x="1443" y="699.6" font-size="20.6" text-anchor="middle" fill="#1a1a1a" textLength="77" lengthAdjust="spacingAndGlyphs">Disposal</text>
<path filter="url(#soft)" d="M1404.9 821.2 L1442.9 821.2 L1442.9 733.6" fill="none" stroke="#000" stroke-width="4.7" stroke-linejoin="miter"/>
<path filter="url(#soft)" d="M1442.9 719.6 L1451.6 735.1 L1434.2 735.1 Z" fill="#000"/>
<path filter="url(#soft)" d="M1404.1 832.2 L1544.3 830.19" fill="none" stroke="#000" stroke-width="4.7" stroke-linejoin="miter"/>
<path filter="url(#soft)" d="M1558.3 829.99 L1542.93 838.91 L1542.68 821.51 Z" fill="#000"/>
<text filter="url(#soft)" x="1458.2" y="857.8" font-size="20.6" text-anchor="middle" fill="#1a1a1a" textLength="52" lengthAdjust="spacingAndGlyphs">Matte</text>
<text filter="url(#soft)" x="1460.5" y="884.5" font-size="20.6" text-anchor="middle" fill="#1a1a1a" textLength="55" lengthAdjust="spacingAndGlyphs">phase</text>
<path filter="url(#soft)" d="M1245.4 902.7 L1245.4 873.5" fill="none" stroke="#000" stroke-width="4.7" stroke-linejoin="miter"/>
<path filter="url(#soft)" d="M1245.4 859.5 L1254.1 875.0 L1236.7 875.0 Z" fill="#000"/>
<text filter="url(#soft)" x="1248.4" y="927.9" font-size="20.6" text-anchor="middle" fill="#1a1a1a"><tspan font-weight="bold">O<tspan font-size="13" dy="4">2</tspan></tspan><tspan dy="-4"> enriched </tspan><tspan font-weight="bold">air</tspan></text>
<text filter="url(#soft)" x="1087.3" y="987.7" font-size="29.5" fill="#111" textLength="407.2" lengthAdjust="spacingAndGlyphs"><tspan font-weight="bold">(b) Converter 1: </tspan><tspan font-style="italic">slag-forming</tspan></text>
<linearGradient id="liqc" gradientUnits="userSpaceOnUse" x1="0" y1="768" x2="0" y2="849.8"><stop offset="0" stop-color="#dedede"/><stop offset="0.4902" stop-color="#dedede"/><stop offset="0.4902" stop-color="#e2b183"/><stop offset="1" stop-color="#e2b183"/></linearGradient>
<path filter="url(#soft)" d="M1603.3999999999999 768 L1811.6 768 A40.8 40.89999999999998 0 0 1 1811.6 849.8 L1603.3999999999999 849.8 A39.0 40.89999999999998 0 0 1 1603.3999999999999 768 Z" fill="url(#liqc)"/>
<path d="M1603.3999999999999 768 L1811.6 768 A40.8 40.89999999999998 0 0 1 1811.6 849.8 L1603.3999999999999 849.8 A39.0 40.89999999999998 0 0 1 1603.3999999999999 768 Z" fill="none" stroke="#262626" stroke-width="1.4"/>
<path filter="url(#soft)" d="M1603.3999999999999 768 L1811.6 768 M1603.3999999999999 849.8 L1811.6 849.8" stroke="#565656" stroke-width="2" fill="none"/>
<rect filter="url(#soft)" x="1596.8" y="762" width="13.3" height="93.8" fill="#a9a9a9"/>
<rect filter="url(#soft)" x="1602.4" y="762" width="3.6" height="93.8" fill="#4a4a4a"/>
<rect filter="url(#soft)" x="1596.8" y="762" width="13.3" height="93.8" fill="none" stroke="#333" stroke-width="1.6"/>
<rect filter="url(#soft)" x="1805" y="762" width="13.3" height="93.8" fill="#a9a9a9"/>
<rect filter="url(#soft)" x="1810.6" y="762" width="3.6" height="93.8" fill="#4a4a4a"/>
<rect filter="url(#soft)" x="1805" y="762" width="13.3" height="93.8" fill="none" stroke="#333" stroke-width="1.6"/>
<rect filter="url(#soft)" x="1679" y="764.3" width="59.5" height="5.6" rx="1.2" fill="#b8b8b8"/>
<rect filter="url(#soft)" x="1679" y="764.3" width="59.5" height="5.6" rx="1.2" fill="none" stroke="#2a2a2a" stroke-width="1.7"/>
<text filter="url(#soft)" x="1710.6" y="800.1" font-size="20.6" text-anchor="middle" fill="#222" textLength="150" lengthAdjust="spacingAndGlyphs">1250 °C, 2.6 bar</text>
<text filter="url(#soft)" x="1811.4" y="641.3" font-size="20.6" text-anchor="middle" fill="#1a1a1a" textLength="55.5" lengthAdjust="spacingAndGlyphs">Outlet</text>
<text filter="url(#soft)" x="1814.5" y="668.3" font-size="20.6" text-anchor="middle" fill="#1a1a1a" textLength="33.5" lengthAdjust="spacingAndGlyphs">gas</text>
<path filter="url(#soft)" d="M1812.2 746 L1812.2 706.4" fill="none" stroke="#000" stroke-width="4.7" stroke-linejoin="miter"/>
<path filter="url(#soft)" d="M1812.2 692.4 L1820.9 707.9 L1803.5 707.9 Z" fill="#000"/>
<rect filter="url(#soft)" x="1906.7" y="737.6" width="111.3" height="75.8" fill="#fff"/>
<rect x="1906.7" y="737.6" width="111.3" height="75.8" fill="none" stroke="#444" stroke-width="2.1"/>
<text filter="url(#soft)" x="1963" y="757.3" font-size="20.6" text-anchor="middle" fill="#1a1a1a" textLength="82" lengthAdjust="spacingAndGlyphs">Residual</text>
<text filter="url(#soft)" x="1962" y="783.4" font-size="20.6" text-anchor="middle" fill="#1a1a1a" textLength="101" lengthAdjust="spacingAndGlyphs">condensed</text>
<text filter="url(#soft)" x="1964" y="809.2" font-size="20.6" text-anchor="middle" fill="#1a1a1a" textLength="68" lengthAdjust="spacingAndGlyphs">phases</text>
<rect filter="url(#soft)" x="1906.7" y="834.7" width="111.3" height="74" fill="#e2b183"/>
<rect x="1906.7" y="834.7" width="111.3" height="74" fill="none" stroke="#444" stroke-width="2.1"/>
<text filter="url(#soft)" x="1961" y="865.5" font-size="20.6" font-weight="bold" text-anchor="middle" fill="#1a1a1a" textLength="66" lengthAdjust="spacingAndGlyphs">Blister</text>
<text filter="url(#soft)" x="1964" y="893.1" font-size="20.6" font-weight="bold" text-anchor="middle" fill="#1a1a1a" textLength="72" lengthAdjust="spacingAndGlyphs">copper</text>
<path filter="url(#soft)" d="M1857.4 823.3 L1888.49 813.06" fill="none" stroke="#000" stroke-width="4.7" stroke-linejoin="miter"/>
<path filter="url(#soft)" d="M1900.36 809.15 L1889.5 820.94 L1884.62 806.12 Z" fill="#000"/>
<path filter="url(#soft)" d="M1857 834.4 L1889.84 844.78" fill="none" stroke="#000" stroke-width="4.7" stroke-linejoin="miter"/>
<path filter="url(#soft)" d="M1901.76 848.54 L1886.06 851.76 L1890.76 836.89 Z" fill="#000"/>
<path filter="url(#soft)" d="M1707.2 902.7 L1707.2 873.5" fill="none" stroke="#000" stroke-width="4.7" stroke-linejoin="miter"/>
<path filter="url(#soft)" d="M1707.2 859.5 L1715.9 875.0 L1698.5 875.0 Z" fill="#000"/>
<text filter="url(#soft)" x="1710.6" y="927.9" font-size="20.6" text-anchor="middle" fill="#1a1a1a"><tspan font-weight="bold">O<tspan font-size="13" dy="4">2</tspan></tspan><tspan dy="-4"> enriched </tspan><tspan font-weight="bold">air</tspan></text>
<text filter="url(#soft)" x="1550.7" y="991.1" font-size="29.5" fill="#111" textLength="441.5" lengthAdjust="spacingAndGlyphs"><tspan font-weight="bold">(c) Converter 2: </tspan><tspan font-style="italic">copper-making</tspan></text>
<text filter="url(#soft)" x="901.1" y="1060.2" font-size="34" font-weight="bold" fill="#111" textLength="756.2" lengthAdjust="spacingAndGlyphs">Copper primary production from chalcopyrite</text>
<text x="20.3" y="1067.6" font-size="27.3" fill="#111" textLength="554" lengthAdjust="spacingAndGlyphs">Kyota Poëti, et. al., Calphad, 88, 2025, 102772.</text>
</g>
</svg></body></html>
